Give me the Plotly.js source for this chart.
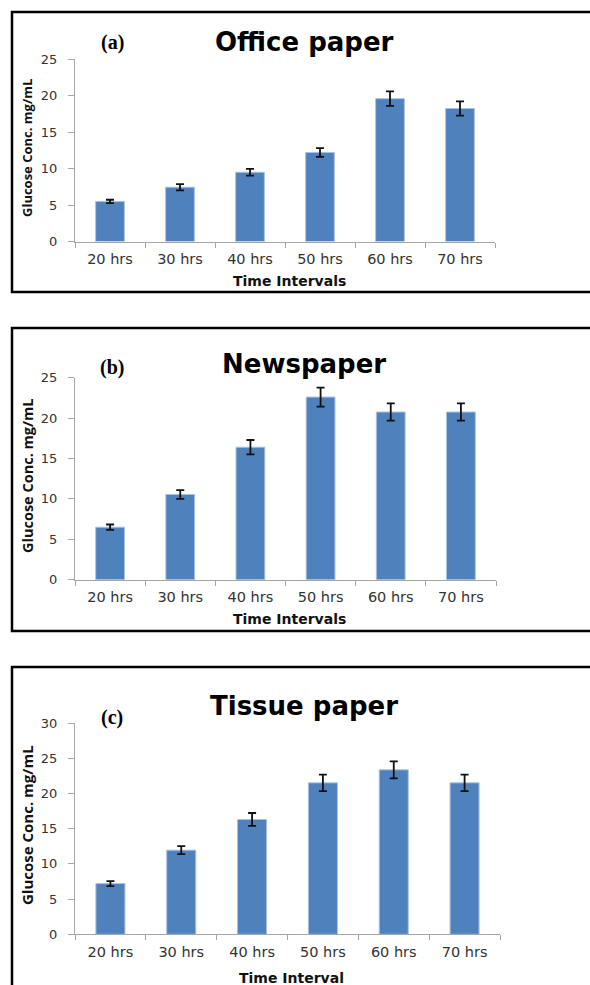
<!DOCTYPE html>
<html>
<head>
<meta charset="utf-8">
<script src="https://cdn.plot.ly/plotly-3.0.1.min.js"></script>
<style>html,body{margin:0;padding:0;background:#fff;}#chart{width:590px;height:985px;}</style>
</head>
<body>
<div id="chart"></div>
<script>
// ---- data ----
const categories = ['20 hrs', '30 hrs', '40 hrs', '50 hrs', '60 hrs', '70 hrs'];
const officeVals = [5.5, 7.45, 9.5, 12.2, 19.6, 18.25];
const officeErr  = [0.23, 0.43, 0.46, 0.6, 1.0, 0.98];
const newsVals   = [6.5, 10.55, 16.4, 22.6, 20.75, 20.75];
const newsErr    = [0.33, 0.54, 0.89, 1.18, 1.07, 1.07];
const tissueVals = [7.2, 11.95, 16.3, 21.5, 23.35, 21.5];
const tissueErr  = [0.35, 0.57, 0.92, 1.18, 1.2, 1.18];
const panelTitles = ['Office paper', 'Newspaper', 'Tissue paper'];
const panelLabels = ['(a)', '(b)', '(c)'];
const xTitles = ['Time Intervals', 'Time Intervals', 'Time Interval'];
const yTitle = 'Glucose Conc. mg/mL';

// ---- layout helpers ----
const W = 590, H = 985;
const px = x => x / W;
const py = y => 1 - y / H;

const barColor = '#4F81BD';
const axisColor = '#a6a6a6';
const tickFont = {family: 'DejaVu Sans', size: 14.5, color: '#333333'};
const yTickFont = {family: 'DejaVu Sans', size: 13, color: '#333333'};

function barTrace(vals, errs, xa, ya) {
  return {
    type: 'bar', x: categories, y: vals, xaxis: xa, yaxis: ya,
    marker: {color: barColor, line: {color: '#a9c1e0', width: 1}},
    error_y: {type: 'data', array: errs, visible: true, color: '#111', thickness: 1.8, width: 4},
    hoverinfo: 'skip'
  };
}

const data = [
  barTrace(officeVals, officeErr, 'x', 'y'),
  barTrace(newsVals, newsErr, 'x2', 'y2'),
  barTrace(tissueVals, tissueErr, 'x3', 'y3')
];

function xAxis(d0, d1, anchor) {
  return {
    domain: [d0, d1], anchor: anchor, type: 'category',
    showline: true, linecolor: axisColor, linewidth: 1,
    ticks: 'outside', tickson: 'boundaries', ticklen: 5, tickcolor: axisColor,
    tickfont: tickFont, showgrid: false, zeroline: false, fixedrange: true,
    ticklabelstandoff: 4
  };
}
function yAxis(d0, d1, anchor, maxV) {
  return {
    domain: [d0, d1], anchor: anchor, range: [0, maxV], dtick: 5,
    showline: true, linecolor: axisColor, linewidth: 1,
    ticks: 'outside', ticklen: 6, tickcolor: axisColor,
    tickfont: yTickFont, showgrid: false, zeroline: false, fixedrange: true,
    ticklabelstandoff: 8
  };
}

// panel geometry (pixel positions)
const panels = [
  {top: 12, bottom: 292, y0: 241.5, yTop: 59.3, xL: 75, xR: 495, max: 25,
   titleY: 42, labY: 42, xtY: 281, ytY: 148, ytSize: 13},
  {top: 328, bottom: 631, y0: 579.7, yTop: 377.7, xL: 75, xR: 496, max: 25,
   titleY: 364, labY: 367, xtY: 619, ytY: 476, ytSize: 14.5},
  {top: 667, bottom: 1010, y0: 934.3, yTop: 723, xL: 75, xR: 500, max: 30,
   titleY: 706, labY: 717, xtY: 978, ytY: 825, ytSize: 15}
];

const layout = {
  width: W, height: H,
  margin: {l: 0, r: 0, t: 0, b: 0},
  paper_bgcolor: '#ffffff', plot_bgcolor: 'rgba(0,0,0,0)',
  showlegend: false, bargap: 0.59,
  xaxis: xAxis(px(panels[0].xL), px(panels[0].xR), 'y'),
  yaxis: yAxis(py(panels[0].y0), py(panels[0].yTop), 'x', panels[0].max),
  xaxis2: xAxis(px(panels[1].xL), px(panels[1].xR), 'y2'),
  yaxis2: yAxis(py(panels[1].y0), py(panels[1].yTop), 'x2', panels[1].max),
  xaxis3: xAxis(px(panels[2].xL), px(panels[2].xR), 'y3'),
  yaxis3: yAxis(py(panels[2].y0), py(panels[2].yTop), 'x3', panels[2].max),
  shapes: [], annotations: []
};

panels.forEach((p, i) => {
  layout.shapes.push({
    type: 'rect', xref: 'paper', yref: 'paper',
    x0: px(12), x1: 1.05, y0: py(p.bottom), y1: py(p.top),
    line: {color: '#000', width: 2.5}, fillcolor: 'rgba(0,0,0,0)'
  });
  layout.annotations.push({
    xref: 'paper', yref: 'paper', x: px(304), y: py(p.titleY),
    xanchor: 'center', yanchor: 'middle', showarrow: false,
    text: panelTitles[i], font: {family: 'DejaVu Sans', size: 26, color: '#000', weight: 'bold'}
  });
  layout.annotations.push({
    xref: 'paper', yref: 'paper', x: px(112), y: py(p.labY),
    xanchor: 'center', yanchor: 'middle', showarrow: false,
    text: '<b>' + panelLabels[i] + '</b>', font: {family: 'Liberation Serif', size: 20, color: '#000'}
  });
  layout.annotations.push({
    xref: 'paper', yref: 'paper', x: px((p.xL + p.xR) / 2 + 4), y: py(p.xtY),
    xanchor: 'center', yanchor: 'middle', showarrow: false,
    text: '<b>' + xTitles[i] + '</b>', font: {family: 'DejaVu Sans', size: 14, color: '#111'}
  });
  layout.annotations.push({
    xref: 'paper', yref: 'paper', x: px(27), y: py(p.ytY), textangle: -90,
    xanchor: 'center', yanchor: 'middle', showarrow: false,
    text: '<b>' + yTitle + '</b>', font: {family: 'Open Sans', size: p.ytSize, color: '#111'}
  });
});

Plotly.newPlot('chart', data, layout, {staticPlot: true, displayModeBar: false});
</script>
</body>
</html>
